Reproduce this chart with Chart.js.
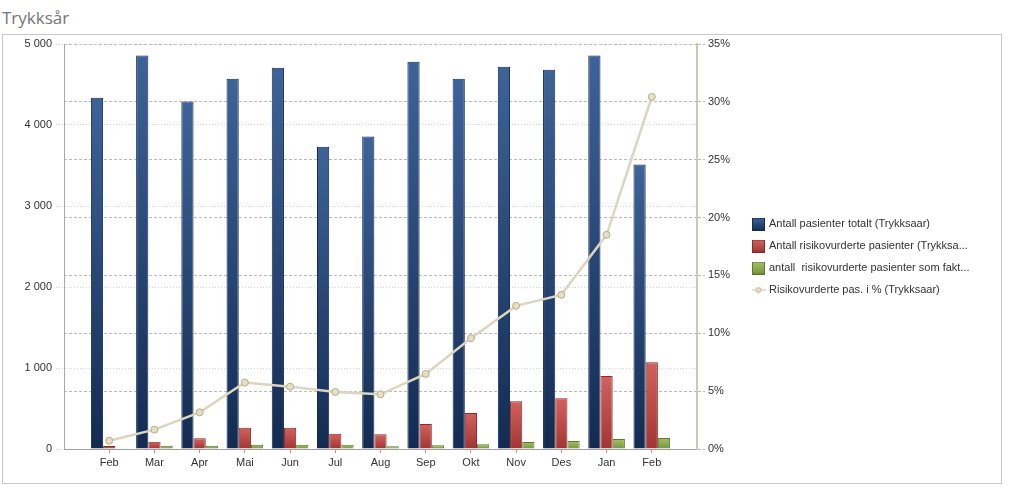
<!DOCTYPE html>
<html lang="no">
<head>
<meta charset="utf-8">
<title>Trykksår</title>
<script src="https://cdn.jsdelivr.net/npm/chart.js@4.4.1/dist/chart.umd.min.js"></script>
<style>
  html, body { margin: 0; padding: 0; background: #fff; }
  body { width: 1024px; height: 487px; position: relative; overflow: hidden; }
  .tittel { position: absolute; left: 2px; top: 6px; font: 17px "Open Sans", sans-serif; color: #767676; }
  .ramme { position: absolute; left: 2px; top: 34px; width: 998px; height: 448px; border: 1px solid #c9c9c9; }
  #trykksarChart { position: absolute; left: 0; top: 0; }
</style>
</head>
<body>
<div class="tittel">Trykksår</div>
<div class="ramme"></div>
<canvas id="trykksarChart" width="1024" height="487"></canvas>
<script>
// Trykksår - pasienter per måned, stolper + prosentlinje

const maaneder = ["Feb", "Mar", "Apr", "Mai", "Jun", "Jul", "Aug", "Sep", "Okt", "Nov", "Des", "Jan", "Feb"]
const antallTotalt = [4335, 4858, 4289, 4570, 4706, 3733, 3857, 4780, 4570, 4718, 4681, 4858, 3511]
const antallRisiko = [37, 90, 132, 263, 263, 189, 181, 309, 445, 589, 626, 902, 1072]
const antallTiltak = [10, 40, 40, 53, 53, 53, 33, 45, 58, 86, 99, 124, 136]
const prosentRisiko = [0.72, 1.67, 3.17, 5.74, 5.39, 4.93, 4.73, 6.49, 9.58, 12.37, 13.32, 18.51, 30.42]

const seriNavn = [
  "Antall pasienter totalt (Trykksaar)",
  "Antall risikovurderte pasienter (Trykksa...",
  "antall  risikovurderte pasienter som fakt...",
  "Risikovurderte pas. i % (Trykksaar)",
]
const venstreTicks = [0, 1000, 2000, 3000, 4000, 5000]
const hoyreTicks = [0, 5, 10, 15, 20, 25, 30, 35]

const FONT = "'Liberation Sans', Arial, sans-serif"
Chart.defaults.font.family = FONT
Chart.defaults.font.size = 11
Chart.defaults.color = "#333"

// gradient per stolpe, lys øverst og mørk nederst
function stolpeFarge(topp, bunn) {
  return (c) => {
    const chart = c.chart
    const y = chart.scales.y
    if (c.type !== "data" || !y || !c.parsed) return bunn
    const y0 = y.getPixelForValue(0)
    const y1 = y.getPixelForValue(c.parsed.y)
    if (!isFinite(y1) || y0 - y1 < 1) return topp
    const g = chart.ctx.createLinearGradient(0, y1, 0, y0)
    g.addColorStop(0, topp)
    g.addColorStop(1, bunn)
    return g
  }
}

// små ikoner til legenden
function boksIkon(topp, bunn, kant) {
  const c = document.createElement("canvas")
  c.width = 13
  c.height = 13
  const g = c.getContext("2d")
  const grad = g.createLinearGradient(0, 0, 0, 13)
  grad.addColorStop(0, topp)
  grad.addColorStop(1, bunn)
  g.fillStyle = grad
  g.fillRect(0, 0, 13, 13)
  g.strokeStyle = kant
  g.strokeRect(0.5, 0.5, 12, 12)
  return c
}
function linjeIkon() {
  const c = document.createElement("canvas")
  c.width = 14
  c.height = 7
  const g = c.getContext("2d")
  g.strokeStyle = "#d6d2b8"
  g.lineWidth = 1.5
  g.beginPath()
  g.moveTo(0, 3.5)
  g.lineTo(14, 3.5)
  g.stroke()
  g.fillStyle = "#e8e4cc"
  g.strokeStyle = "#b8b08a"
  g.lineWidth = 1
  g.beginPath()
  g.arc(7, 3.5, 2.5, 0, Math.PI * 2)
  g.fill()
  g.stroke()
  return c
}
const ikoner = [
  boksIkon("#3e6399", "#152e57", "#142a4e"),
  boksIkon("#d06662", "#a13532", "#8a2b28"),
  boksIkon("#a2c262", "#77943d", "#5f7a2d"),
  linjeIkon(),
]

// legenden skal starte ved x = 742.5 -> regn ut høyre padding
const maal = document.createElement("canvas").getContext("2d")
maal.font = "11px " + FONT
const lengsteTekst = Math.max(...seriNavn.map((t) => maal.measureText(t).width))
const legendeBredde = 11 + 10 + 5.5 + lengsteTekst + 10
const hoyrePadding = Math.max(0, 1024 - 742.5 - legendeBredde)

const punkter = (arr) => arr.map((v, i) => ({ x: i, y: v }))
const tusen = (v) => String(v).replace(/\B(?=(\d{3})+(?!\d))/g, " ")

const ctx = document.getElementById("trykksarChart")
new Chart(ctx, {
  type: "bar",
  data: {
    datasets: [
      {
        label: seriNavn[0],
        data: punkter(antallTotalt),
        backgroundColor: stolpeFarge("#3e6399", "#132b52"),
        borderColor: "#142a4e",
        borderWidth: 1,
        order: 1,
      },
      {
        label: seriNavn[1],
        data: punkter(antallRisiko),
        backgroundColor: stolpeFarge("#d3625e", "#a13532"),
        borderColor: "#8a2b28",
        borderWidth: 1,
        order: 1,
      },
      {
        label: seriNavn[2],
        data: punkter(antallTiltak),
        backgroundColor: stolpeFarge("#a2c262", "#77943d"),
        borderColor: "#5f7a2d",
        borderWidth: 1,
        order: 1,
      },
      {
        type: "line",
        label: seriNavn[3],
        data: punkter(prosentRisiko),
        yAxisID: "y1",
        borderColor: "#dad6bf",
        borderWidth: 2.5,
        tension: 0,
        pointRadius: 3.5,
        pointBackgroundColor: "#e4e0c6",
        pointBorderColor: "#b5ad87",
        pointBorderWidth: 1,
        order: 0,
      },
    ],
  },
  options: {
    responsive: false,
    animation: false,
    layout: { padding: { left: 0, top: 44, right: hoyrePadding, bottom: 17 } },
    datasets: { bar: { categoryPercentage: 0.81, barPercentage: 1 } },
    plugins: {
      tooltip: { enabled: false },
      legend: {
        position: "right",
        align: "center",
        maxWidth: 400,
        labels: {
          usePointStyle: true,
          pointStyleWidth: 10,
          padding: 11,
          color: "#333",
          font: { size: 11 },
          generateLabels: (chart) =>
            Chart.defaults.plugins.legend.labels
              .generateLabels(chart)
              .sort((a, b) => a.datasetIndex - b.datasetIndex)
              .map((item) => ({ ...item, pointStyle: ikoner[item.datasetIndex] })),
        },
      },
    },
    scales: {
      x: {
        type: "linear",
        min: -1,
        max: 13,
        offset: false,
        afterBuildTicks: (s) => {
          s.ticks = maaneder.map((m, i) => ({ value: i }))
        },
        afterFit: (s) => { s.height = 21 },
        ticks: {
          stepSize: 1,
          padding: 3,
          autoSkip: false,
          maxRotation: 0,
          callback: (v) => maaneder[v] ?? "",
        },
        grid: { offset: false, drawOnChartArea: false, drawTicks: true, tickLength: 4, color: "#a0a0a0" },
        border: { color: "#a0a0a0", width: 1 },
      },
      y: {
        position: "left",
        min: 0,
        max: 5000,
        afterBuildTicks: (s) => {
          s.ticks = venstreTicks.map((v) => ({ value: v }))
        },
        afterFit: (s) => { s.width = 64 },
        ticks: { padding: 4, callback: (v) => tusen(v) },
        grid: { color: "#d4d4d4", tickLength: 8, tickColor: "#d4d4d4", tickBorderDash: [1, 2] },
        border: { color: "#a8a8a8", width: 1, dash: [1, 2] },
      },
      y1: {
        position: "right",
        min: 0,
        max: 35,
        afterBuildTicks: (s) => {
          s.ticks = hoyreTicks.map((v) => ({ value: v }))
        },
        afterFit: (s) => { s.width = 45.5 },
        ticks: { padding: 3, callback: (v) => v + "%" },
        grid: { color: "#bcbcbc", tickLength: 8, tickColor: "#bcbcbc", tickBorderDash: [3, 2] },
        border: { color: "#cbc7b2", width: 2, dash: [3, 2] },
      },
    },
  },
})
</script>
</body>
</html>
